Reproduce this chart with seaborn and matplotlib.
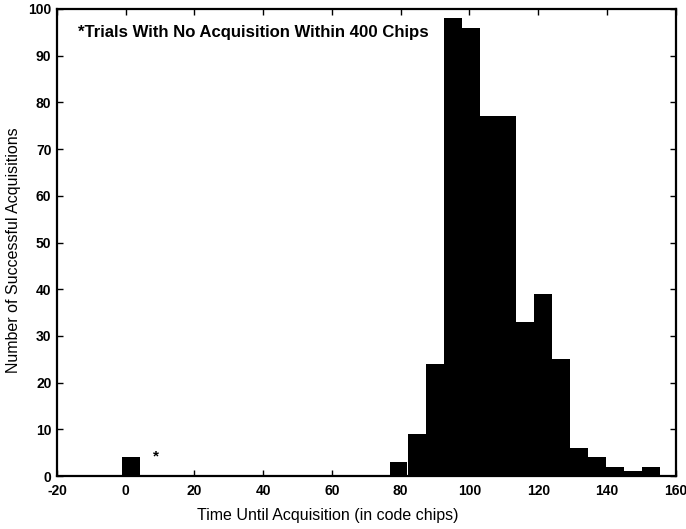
import numpy as np
import pandas as pd
import matplotlib
matplotlib.use("Agg")
import matplotlib.pyplot as plt
import seaborn as sns

# Histogram of acquisition times (bin centres and counts per bin)
bin_centers = [1.6, 79.4, 84.6, 89.9, 95.1, 100.4, 105.6, 110.9, 116.1,
               121.4, 126.6, 131.9, 137.1, 142.4, 147.6, 152.9]
counts = [4, 3, 9, 24, 98, 96, 77, 77, 33, 39, 25, 6, 4, 2, 1, 2]
bin_width = 5.25

x_ticks = [-20, 0, 20, 40, 60, 80, 100, 120, 140, 160]
y_ticks = [0, 10, 20, 30, 40, 50, 60, 70, 80, 90, 100]

note_text = "*Trials With No Acquisition Within 400 Chips"
x_label = "Time Until Acquisition (in code chips)"
y_label = "Number of Successful Acquisitions"

sns.set_style("ticks")
plt.rcParams["font.family"] = ["Liberation Sans", "DejaVu Sans"]
plt.rcParams["axes.unicode_minus"] = False
plt.rcParams["text.color"] = "black"
plt.rcParams["axes.labelcolor"] = "black"
plt.rcParams["xtick.color"] = "black"
plt.rcParams["ytick.color"] = "black"

df = pd.DataFrame({"time": bin_centers, "count": counts})
c = np.asarray(bin_centers)
edges = np.unique(np.round(np.concatenate([c - bin_width / 2, c + bin_width / 2]), 6))
edges = [float(e) for e in edges]

fig = plt.figure(figsize=(6.86, 5.29), dpi=100)
ax = fig.add_axes([0.083, 0.1, 0.902, 0.883])

sns.histplot(data=df, x="time", weights="count", bins=edges, ax=ax,
             color="black", edgecolor="none", alpha=1.0, linewidth=0)

ax.set_xlim(-20, 160)
ax.set_ylim(0, 100)
ax.set_xticks(x_ticks)
ax.set_yticks(y_ticks)
ax.tick_params(direction="in", length=4, width=1, top=True, right=True,
               labelsize=10, colors="black")
ax.tick_params(axis="x", pad=6)
ax.tick_params(axis="y", pad=4)
for lab in ax.get_xticklabels() + ax.get_yticklabels():
    lab.set_fontweight("bold")
for s in ax.spines.values():
    s.set_visible(True)
    s.set_linewidth(1.6)
    s.set_color("black")

ax.set_xlabel(x_label, fontsize=11.5, color="black")
ax.set_ylabel(y_label, fontsize=11.5, color="black")
ax.xaxis.set_label_coords(0.438, -0.068)
ax.yaxis.set_label_coords(-0.058, 0.483)

ax.text(-13.8, 94.9, note_text, fontsize=12.1, fontweight="bold",
        color="black", ha="left", va="center")
ax.text(8.8, 4.2, "*", fontsize=11, fontweight="bold", color="black",
        ha="center", va="center")

fig.savefig("out.png", dpi=100)
